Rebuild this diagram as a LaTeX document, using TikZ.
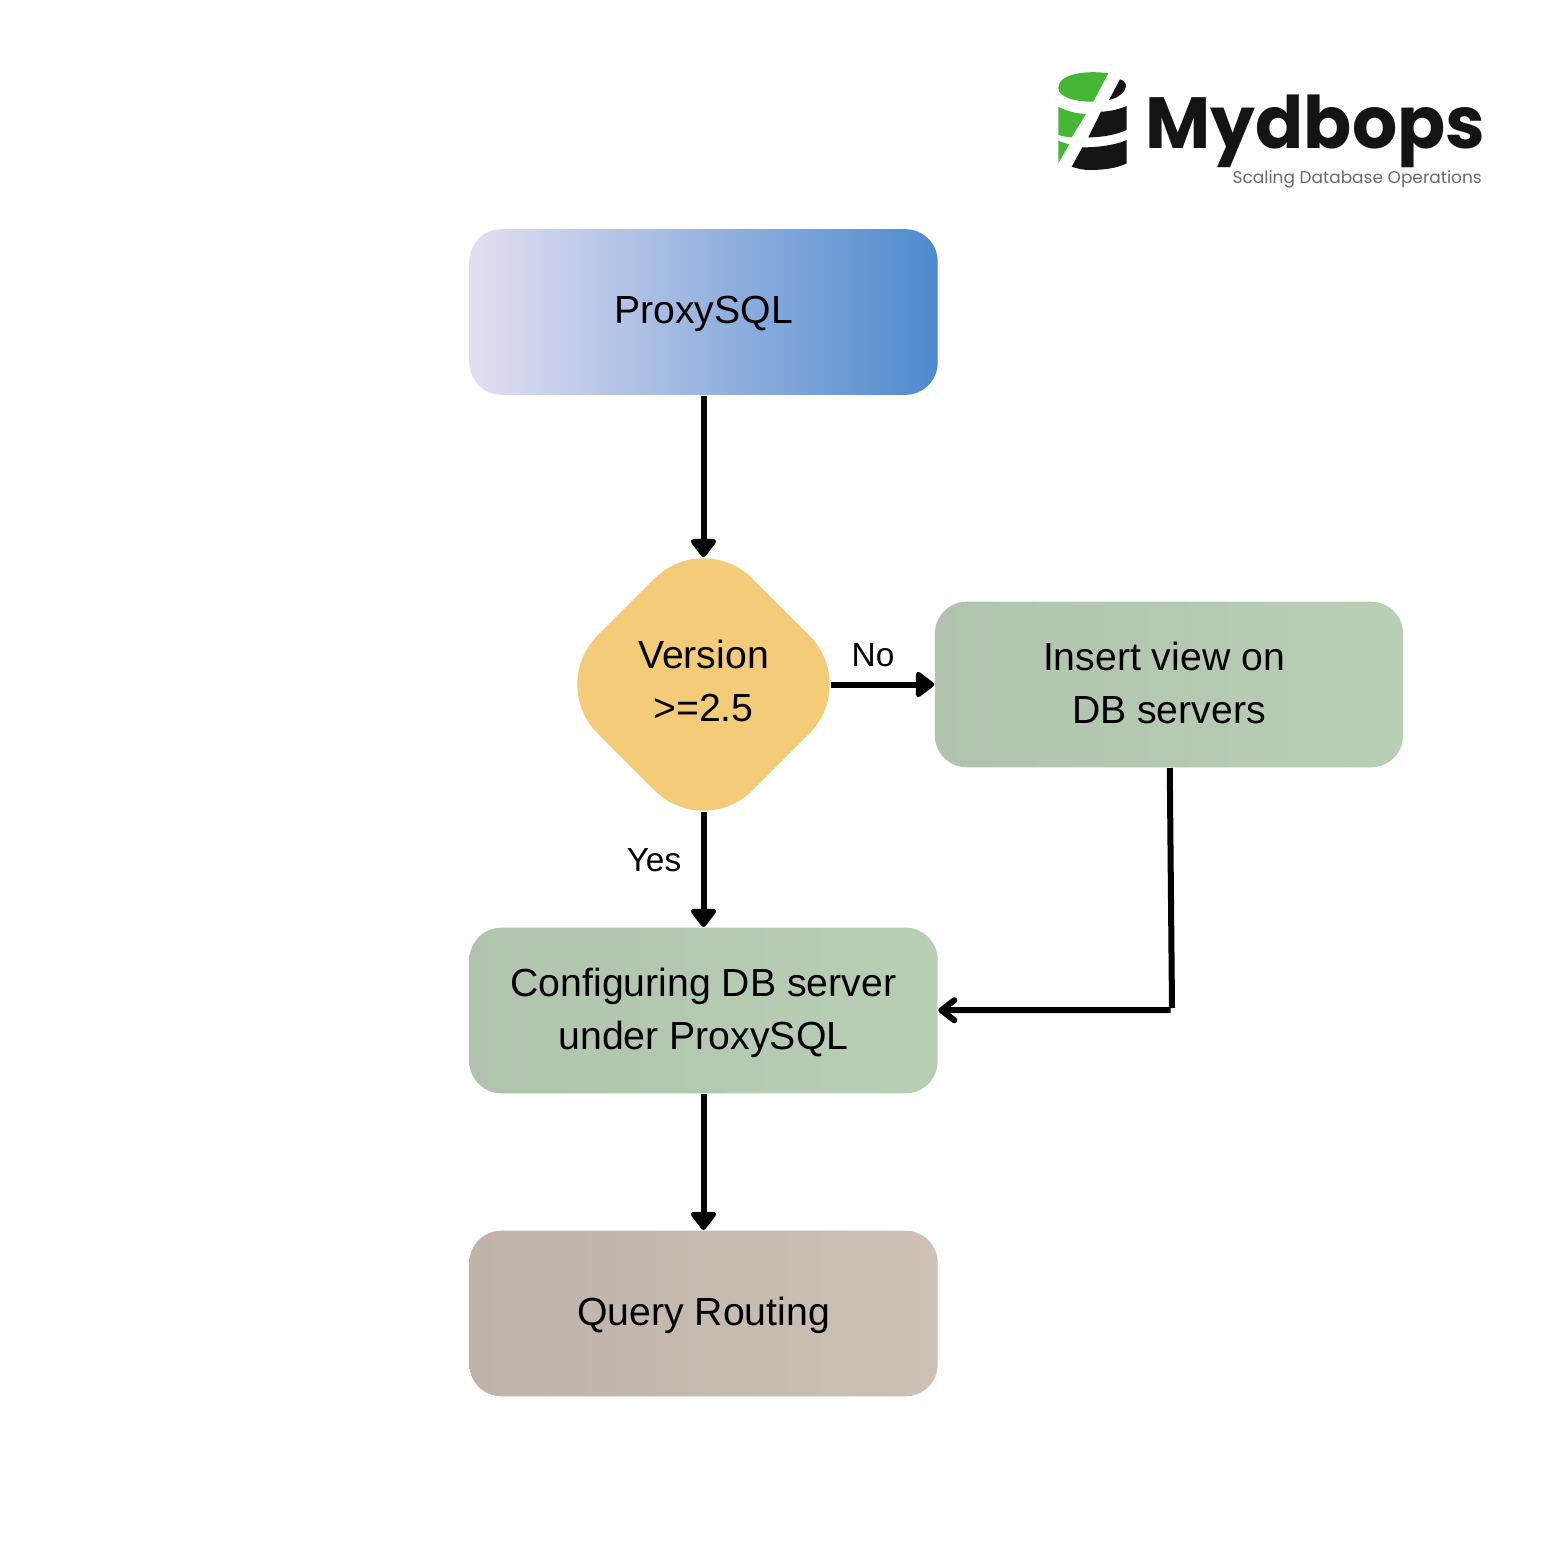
\documentclass[tikz,border=0pt]{standalone}
\usepackage{fontspec}
\setmainfont{Liberation Sans}
\newfontfamily\logofont{Poppins}
\newfontfamily\brandfont[FakeStretch=0.98]{Poppins}
\usetikzlibrary{arrows.meta,shapes.geometric}
\definecolor{logogreen}{HTML}{45B735}
\definecolor{logoblack}{HTML}{141414}
\newcommand{\mraise}[2]{\raisebox{#1}[\height][\depth]{#2}}
\begin{document}
\begin{tikzpicture}[x=0.01cm,y=-0.01cm,
                    mbox/.style = {shape = rectangle,
                                    rounded corners = 0.32cm,
                                    minimum width = 4.68cm,
                                    minimum height = 1.655cm,
                                    inner sep=0pt,
                                    align=center,
                                    text=black,
                                    font=\fontsize{11.15}{15}\selectfont},
                    mdiamond/.style = {shape = diamond,
                                    aspect = 1,
                                    rounded corners = 0.69cm,
                                    minimum width = 3.1cm,
                                    minimum height = 3.1cm,
                                    inner sep=0pt,
                                    align=center,
                                    fill={rgb,255:red,244;green,203;blue,121},
                                    font=\fontsize{11.15}{15}\selectfont},
                    mlabel/.style = {inner sep=0pt,
                                    font=\fontsize{9.5}{12}\selectfont},
                    mflow/.style = {draw=black,
                                    line width=0.06cm,
                                    -{Triangle[round,length=0.2cm,width=0.29cm]}},
                    mplain/.style = {draw=black,
                                    line width=0.06cm}]
		\useasboundingbox (0,0) rectangle (1563,1563);
		\fill[white] (0,0) rectangle (1563,1563);
		\node[mbox,left color={rgb,255:red,227;green,223;blue,242},middle color={rgb,255:red,168;green,191;blue,228},right color={rgb,255:red,78;green,138;blue,206}] (proxy) at (703.5,312) {\mraise{-0.02cm}{ProxySQL}};
		\node[mdiamond] (version) at (703.5,684.5) {\mraise{0.035cm}{Version}\\\mraise{0.03cm}{>=2.5}};
		\node[mbox,left color={rgb,255:red,177;green,195;blue,174},right color={rgb,255:red,184;green,207;blue,180}] (insert) at (1169,684.5) {\mraise{0.02cm}{Insert view on}\hspace*{0.1cm}\\\mraise{0.01cm}{DB servers}};
		\node[mbox,left color={rgb,255:red,177;green,195;blue,174},right color={rgb,255:red,184;green,207;blue,180}] (config) at (703.5,1010.5) {\mraise{-0.02cm}{Configuring DB server}\\\mraise{-0.02cm}{under ProxySQL}};
		\node[mbox,left color={rgb,255:red,191;green,179;blue,170},right color={rgb,255:red,204;green,193;blue,180}] (query) at (703.5,1313.5) {\mraise{-0.02cm}{Query Routing}};
		\node[mlabel] (no) at (873,655) {No};
		\node[mlabel] (yes) at (654,860) {Yes};
		\coordinate (elbowv) at (1172,1008);
		\coordinate (elbowh) at (1170.5,1010);
		\path (proxy) edge[mflow,shorten >=-0.285cm] (version);
		\path (version) edge[mflow,shorten <=-0.285cm] (config);
		\path (version) edge[mflow,shorten <=-0.285cm] (insert);
		\path (config) edge[mflow] (query);
		\path (insert) edge[mplain] (elbowv);
		\path (elbowh) edge[mplain,-{Straight Barb[round,length=0.13cm,width=0.2cm]}] (config);
		\fill[logogreen] (1108.3,73.3) .. controls (1085,70) and (1058.3,74) .. (1058.3,88) .. controls (1058.3,97) and (1075,102) .. (1093.3,101.7) -- cycle;
		\fill[logoblack] (1120,79.3) .. controls (1124,81) and (1126,83) .. (1126,85) .. controls (1126,92) and (1118,98) .. (1109,100) -- cycle;
		\fill[logogreen] (1058.3,106.7) .. controls (1066,111) and (1076,113.5) .. (1086,114) -- (1071.7,137.3) .. controls (1066,137) and (1062,136) .. (1058.3,135) -- cycle;
		\fill[logoblack] (1101,111.7) .. controls (1110,111.5) and (1120,109) .. (1126.7,106) -- (1126.7,130) .. controls (1116,135) and (1100,137.5) .. (1088.3,137.3) -- cycle;
		\fill[logogreen] (1058.3,140.7) .. controls (1062,142) and (1065,143.5) .. (1069.3,144.3) -- (1058.3,163.3) -- cycle;
		\fill[logoblack] (1082.3,147.3) .. controls (1098,147.5) and (1116,145) .. (1126.7,140) -- (1126.7,163.3) .. controls (1118,168) and (1104,170) .. (1090,170) .. controls (1083,170) and (1077,168.5) .. (1071.7,166.7) -- cycle;
		\node[inner sep=0pt,anchor=base west,text=logoblack,font=\brandfont\bfseries\fontsize{20.6}{24}\selectfont] (brand) at (1145,148) {Mydbops};
		\node[inner sep=0pt,anchor=base east,text={rgb,255:red,105;green,105;blue,105},font=\logofont\fontsize{4.83}{6}\selectfont] (tagline) at (1482.5,183) {Scaling Database Operations};
	\end{tikzpicture}
\end{document}
